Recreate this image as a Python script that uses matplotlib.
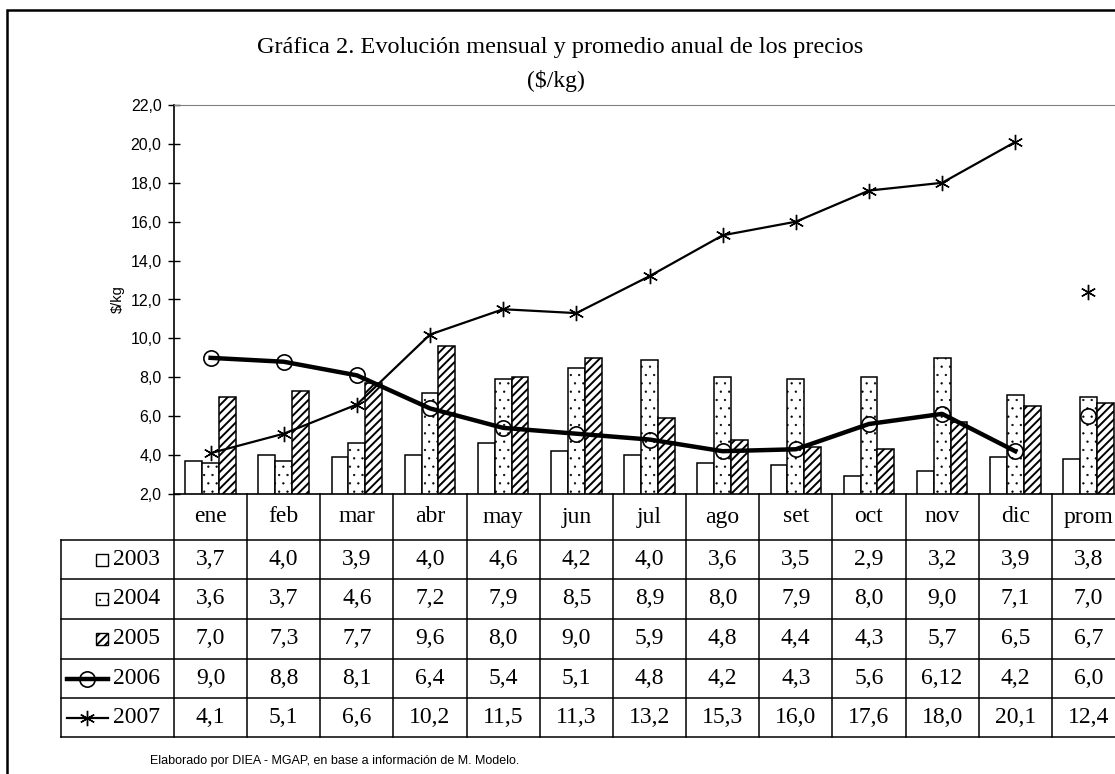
import numpy as np
import matplotlib
matplotlib.use("Agg")
import matplotlib.pyplot as plt
from matplotlib.lines import Line2D
from matplotlib.patches import Rectangle
from matplotlib.transforms import blended_transform_factory

# --- DATA ---
months = ["ene", "feb", "mar", "abr", "may", "jun", "jul", "ago", "set", "oct", "nov", "dic", "prom"]
v2003 = [3.7, 4.0, 3.9, 4.0, 4.6, 4.2, 4.0, 3.6, 3.5, 2.9, 3.2, 3.9, 3.8]
v2004 = [3.6, 3.7, 4.6, 7.2, 7.9, 8.5, 8.9, 8.0, 7.9, 8.0, 9.0, 7.1, 7.0]
v2005 = [7.0, 7.3, 7.7, 9.6, 8.0, 9.0, 5.9, 4.8, 4.4, 4.3, 5.7, 6.5, 6.7]
v2006 = [9.0, 8.8, 8.1, 6.4, 5.4, 5.1, 4.8, 4.2, 4.3, 5.6, 6.12, 4.2, 6.0]
v2007 = [4.1, 5.1, 6.6, 10.2, 11.5, 11.3, 13.2, 15.3, 16.0, 17.6, 18.0, 20.1, 12.4]
table_text = [
    ["3,7", "4,0", "3,9", "4,0", "4,6", "4,2", "4,0", "3,6", "3,5", "2,9", "3,2", "3,9", "3,8"],
    ["3,6", "3,7", "4,6", "7,2", "7,9", "8,5", "8,9", "8,0", "7,9", "8,0", "9,0", "7,1", "7,0"],
    ["7,0", "7,3", "7,7", "9,6", "8,0", "9,0", "5,9", "4,8", "4,4", "4,3", "5,7", "6,5", "6,7"],
    ["9,0", "8,8", "8,1", "6,4", "5,4", "5,1", "4,8", "4,2", "4,3", "5,6", "6,12", "4,2", "6,0"],
    ["4,1", "5,1", "6,6", "10,2", "11,5", "11,3", "13,2", "15,3", "16,0", "17,6", "18,0", "20,1", "12,4"],
]
years = ["2003", "2004", "2005", "2006", "2007"]
yticks = [2, 4, 6, 8, 10, 12, 14, 16, 18, 20, 22]

W, H = 1115, 774
SERIF = "Liberation Serif"
SANS = "Liberation Sans"
DOTS = ".."
STRIPES = "////"
DOT_LW = 0.4
STRIPE_LW = 1.4

def fx(px):
    return px / W

def fy(py):
    return 1 - py / H

fig = plt.figure(figsize=(W / 100, H / 100), dpi=100)
fig.patch.set_facecolor("white")

# outer frame (runs off the right and bottom edges)
fig.add_artist(Rectangle((fx(7), fy(790)), fx(1200), fy(10) - fy(790),
                         transform=fig.transFigure, fill=False, edgecolor="black", lw=1.8))

ax = fig.add_axes([fx(174), fy(494), fx(1125) - fx(174), fy(105) - fy(494)])
x = np.arange(len(months))
bw = 0.23

ax.bar(x - bw, v2003, bw, color="white", edgecolor="black", lw=1.1, zorder=2)
with plt.rc_context({"hatch.linewidth": DOT_LW}):
    ax.bar(x, v2004, bw, color="white", edgecolor="black", hatch=DOTS, lw=1.1, zorder=2)
with plt.rc_context({"hatch.linewidth": STRIPE_LW}):
    ax.bar(x + bw, v2005, bw, color="white", edgecolor="black", hatch=STRIPES, lw=1.1, zorder=2)

star = (6, 2, 0)
ax.plot(x[:12], v2006[:12], color="black", lw=3.2, zorder=3)
ax.plot(x, v2006, ls="none", marker="o", ms=11, mfc="none", mec="black", mew=1.2, zorder=4)
ax.plot(x[:12], v2007[:12], color="black", lw=1.6, zorder=3)
ax.plot(x, v2007, ls="none", marker=star, ms=11, mec="black", mew=1.0, zorder=4)

ax.set_xlim(-0.5, 12.5)
ax.set_ylim(2, 22)
ax.set_xticks([])
ax.set_yticks(yticks)
ax.set_yticklabels([f"{v:.1f}".replace(".", ",") for v in yticks], fontfamily=SANS, fontsize=11.5)
ax.tick_params(axis="y", direction="inout", length=8, width=1, pad=5)
ax.spines["right"].set_visible(False)
ax.spines["top"].set_color("#808080")
ax.spines["left"].set_linewidth(1.2)
ax.spines["bottom"].set_linewidth(1.2)
ax.set_ylabel("$/kg", fontfamily=SANS, fontsize=10.5, parse_math=False, labelpad=4)

# title
fig.text(fx(560), fy(47), "Gráfica 2. Evolución mensual y promedio anual de los precios",
         ha="center", va="center", fontfamily=SERIF, fontsize=17.5)
fig.text(fx(556), fy(81), "($/kg)", ha="center", va="center", fontfamily=SERIF,
         fontsize=17, parse_math=False)

# data table under the plot
tr = blended_transform_factory(ax.transData, fig.transFigure)
row_lines = [540, 579, 619, 659, 698, 737]
for py in row_lines:
    fig.add_artist(Line2D([fx(61), fx(1200)], [fy(py), fy(py)], transform=fig.transFigure,
                          color="black", lw=1.1))
fig.add_artist(Line2D([fx(61), fx(61)], [fy(540), fy(737)], transform=fig.transFigure,
                      color="black", lw=1.1))
for i in range(len(months) + 1):
    ax.plot([i - 0.5, i - 0.5], [fy(494), fy(737)], transform=tr, color="black",
            lw=1.1, clip_on=False)

for i, m in enumerate(months):
    ax.text(i, fy(517), m, transform=tr, ha="center", va="center", fontfamily=SERIF, fontsize=17)
    for r in range(5):
        yc = (row_lines[r] + row_lines[r + 1]) / 2
        ax.text(i, fy(yc), table_text[r][i], transform=tr, ha="center", va="center",
                fontfamily=SERIF, fontsize=17)

# legend keys in table
for r, yr in enumerate(years):
    yc = (row_lines[r] + row_lines[r + 1]) / 2
    fig.text(fx(113), fy(yc), yr, ha="left", va="center", fontfamily=SERIF, fontsize=17)
    if r < 3:
        hatch = [None, DOTS, STRIPES][r]
        hlw = [1.0, DOT_LW, STRIPE_LW][r]
        with plt.rc_context({"hatch.linewidth": hlw}):
            fig.add_artist(Rectangle((fx(96), fy(yc + 6)), fx(12), fy(yc - 6) - fy(yc + 6),
                                     transform=fig.transFigure, facecolor="white",
                                     edgecolor="black", lw=1, hatch=hatch))
    elif r == 3:
        fig.add_artist(Line2D([fx(67), fx(108)], [fy(yc), fy(yc)], transform=fig.transFigure,
                              color="black", lw=3.2))
        fig.add_artist(Line2D([fx(87)], [fy(yc)], transform=fig.transFigure, ls="none",
                              marker="o", ms=11, mfc="none", mec="black", mew=1.2))
    else:
        fig.add_artist(Line2D([fx(67), fx(108)], [fy(yc), fy(yc)], transform=fig.transFigure,
                              color="black", lw=1.6))
        fig.add_artist(Line2D([fx(87)], [fy(yc)], transform=fig.transFigure, ls="none",
                              marker=star, ms=11, mec="black", mew=1.0))

fig.text(fx(150), fy(761), "Elaborado por DIEA - MGAP, en base a información de M. Modelo.",
         ha="left", va="center", fontfamily=SANS, fontsize=9)

fig.savefig("out.png", dpi=100)
